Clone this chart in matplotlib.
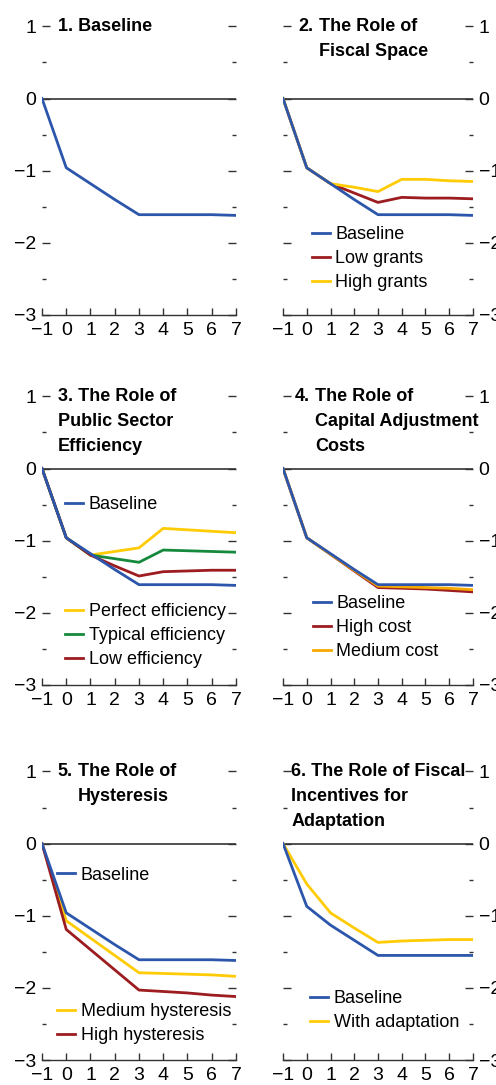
import matplotlib
matplotlib.use("Agg")
import matplotlib.pyplot as plt
from matplotlib.ticker import MultipleLocator

plt.rcParams['font.family'] = ['Liberation Sans', 'DejaVu Sans']

# horizon (years)
years = [-1, 0, 1, 2, 3, 4, 5, 6, 7]

# colours
BLUE = '#2b56ab'
RED = '#9c1c20'
YELLOW = '#ffcb05'
GREEN = '#15893c'
ORANGE = '#f7a900'

# panel 1-5 baseline
baseline = [0, -0.96, -1.18, -1.40, -1.61, -1.61, -1.61, -1.61, -1.62]

# panel 2
low_grants = [0, -0.96, -1.18, -1.31, -1.44, -1.37, -1.38, -1.38, -1.39]
high_grants = [0, -0.96, -1.18, -1.23, -1.29, -1.12, -1.12, -1.14, -1.15]

# panel 3
perfect_eff = [0, -0.96, -1.20, -1.15, -1.10, -0.83, -0.85, -0.87, -0.89]
typical_eff = [0, -0.96, -1.20, -1.25, -1.30, -1.13, -1.14, -1.15, -1.16]
low_eff = [0, -0.96, -1.20, -1.35, -1.49, -1.43, -1.42, -1.41, -1.41]

# panel 4
high_cost = [0, -0.96, -1.19, -1.42, -1.65, -1.66, -1.67, -1.69, -1.71]
medium_cost = [0, -0.96, -1.19, -1.41, -1.63, -1.64, -1.65, -1.66, -1.68]

# panel 5
medium_hyst = [0, -1.07, -1.31, -1.55, -1.79, -1.80, -1.81, -1.82, -1.84]
high_hyst = [0, -1.19, -1.47, -1.75, -2.03, -2.05, -2.07, -2.10, -2.12]

# panel 6
baseline6 = [0, -0.87, -1.13, -1.34, -1.55, -1.55, -1.55, -1.55, -1.55]
with_adapt = [0, -0.56, -0.96, -1.17, -1.37, -1.35, -1.34, -1.33, -1.33]

FS = 13      # titles / legends
TFS = 14     # tick labels
LW = 2.0

fig = plt.figure(figsize=(4.96, 10.85), dpi=100)

lefts = [0.0847, 0.5706]
widths = [0.391, 0.383]
bottoms = [0.7097, 0.3687, 0.0230]
height = 0.2660

axes = []
for r in range(3):
    for c in range(2):
        ax = fig.add_axes([lefts[c], bottoms[r], widths[c], height])
        axes.append(ax)
        ax.set_xlim(-1, 7)
        ax.set_ylim(-3, 1)
        ax.axhline(0, color='#333333', lw=1.2, zorder=1)
        for s in ['top', 'left', 'right']:
            ax.spines[s].set_visible(False)
        ax.spines['bottom'].set_color('#333333')
        ax.spines['bottom'].set_linewidth(1.0)
        ax.xaxis.set_major_locator(MultipleLocator(1))
        ax.yaxis.set_major_locator(MultipleLocator(1))
        ax.yaxis.set_minor_locator(MultipleLocator(0.5))
        ax.tick_params(axis='x', direction='in', length=5, width=1, color='#333333',
                       labelsize=TFS, pad=5)
        ax.tick_params(axis='y', which='major', direction='in', length=6, width=1,
                       color='#333333', left=True, right=True, labelsize=TFS, pad=4,
                       labelleft=(c == 0), labelright=(c == 1))
        ax.tick_params(axis='y', which='minor', direction='in', length=3, width=1,
                       color='#333333', left=True, right=True)
        ax.patch.set_visible(False)


def title_lines(ax, x, lines, y0=1.0, step=0.35):
    for i, line in enumerate(lines):
        ax.text(x, y0 - i * step, line, fontsize=FS, fontweight='bold',
                va='center', ha='left')


def legend(ax, handles, x, y):
    return ax.legend(handles=handles, loc='upper left', bbox_to_anchor=(x, y),
                     bbox_transform=ax.transData, frameon=False, fontsize=FS,
                     handlelength=1.0, handletextpad=0.3, labelspacing=0.38,
                     borderpad=0, borderaxespad=0)


# 1. Baseline
ax = axes[0]
ax.plot(years, baseline, color=BLUE, lw=LW, zorder=3)
title_lines(ax, -0.34, ['1. Baseline'])

# 2. Fiscal space
ax = axes[1]
l_b, = ax.plot(years, baseline, color=BLUE, lw=LW, zorder=3, label='Baseline')
l_l, = ax.plot(years, low_grants, color=RED, lw=LW, zorder=2, label='Low grants')
l_h, = ax.plot(years, high_grants, color=YELLOW, lw=LW, zorder=2, label='High grants')
title_lines(ax, -0.37, ['2.'])
title_lines(ax, 0.52, ['The Role of', 'Fiscal Space'])
legend(ax, [l_b, l_l, l_h], 0.22, -1.77)

# 3. Public sector efficiency
ax = axes[2]
l_b, = ax.plot(years, baseline, color=BLUE, lw=LW, zorder=3, label='Baseline')
l_p, = ax.plot(years, perfect_eff, color=YELLOW, lw=LW, zorder=2, label='Perfect efficiency')
l_t, = ax.plot(years, typical_eff, color=GREEN, lw=LW, zorder=2, label='Typical efficiency')
l_l, = ax.plot(years, low_eff, color=RED, lw=LW, zorder=2, label='Low efficiency')
title_lines(ax, -0.34, ['3. The Role of', 'Public Sector', 'Efficiency'])
leg1 = legend(ax, [l_b], -0.05, -0.38)
ax.add_artist(leg1)
legend(ax, [l_p, l_t, l_l], -0.05, -1.87)

# 4. Capital adjustment costs
ax = axes[3]
l_b, = ax.plot(years, baseline, color=BLUE, lw=LW, zorder=3, label='Baseline')
l_h, = ax.plot(years, high_cost, color=RED, lw=LW, zorder=2, label='High cost')
l_m, = ax.plot(years, medium_cost, color=ORANGE, lw=LW, zorder=2, label='Medium cost')
title_lines(ax, -0.5, ['4.'])
title_lines(ax, 0.35, ['The Role of', 'Capital Adjustment', 'Costs'])
legend(ax, [l_b, l_h, l_m], 0.26, -1.76)

# 5. Hysteresis
ax = axes[4]
l_b, = ax.plot(years, baseline, color=BLUE, lw=LW, zorder=3, label='Baseline')
l_m, = ax.plot(years, medium_hyst, color=YELLOW, lw=LW, zorder=2, label='Medium hysteresis')
l_h, = ax.plot(years, high_hyst, color=RED, lw=LW, zorder=2, label='High hysteresis')
title_lines(ax, -0.38, ['5.'])
title_lines(ax, 0.48, ['The Role of', 'Hysteresis'])
leg1 = legend(ax, [l_b], -0.38, -0.32)
ax.add_artist(leg1)
legend(ax, [l_m, l_h], -0.38, -2.21)

# 6. Fiscal incentives for adaptation
ax = axes[5]
l_b, = ax.plot(years, baseline6, color=BLUE, lw=LW, zorder=3, label='Baseline')
l_a, = ax.plot(years, with_adapt, color=YELLOW, lw=LW, zorder=2, label='With adaptation')
title_lines(ax, -0.66, ['6. The Role of Fiscal', 'Incentives for', 'Adaptation'])
legend(ax, [l_b, l_a], 0.14, -2.03)

fig.savefig('out.png', dpi=100)
